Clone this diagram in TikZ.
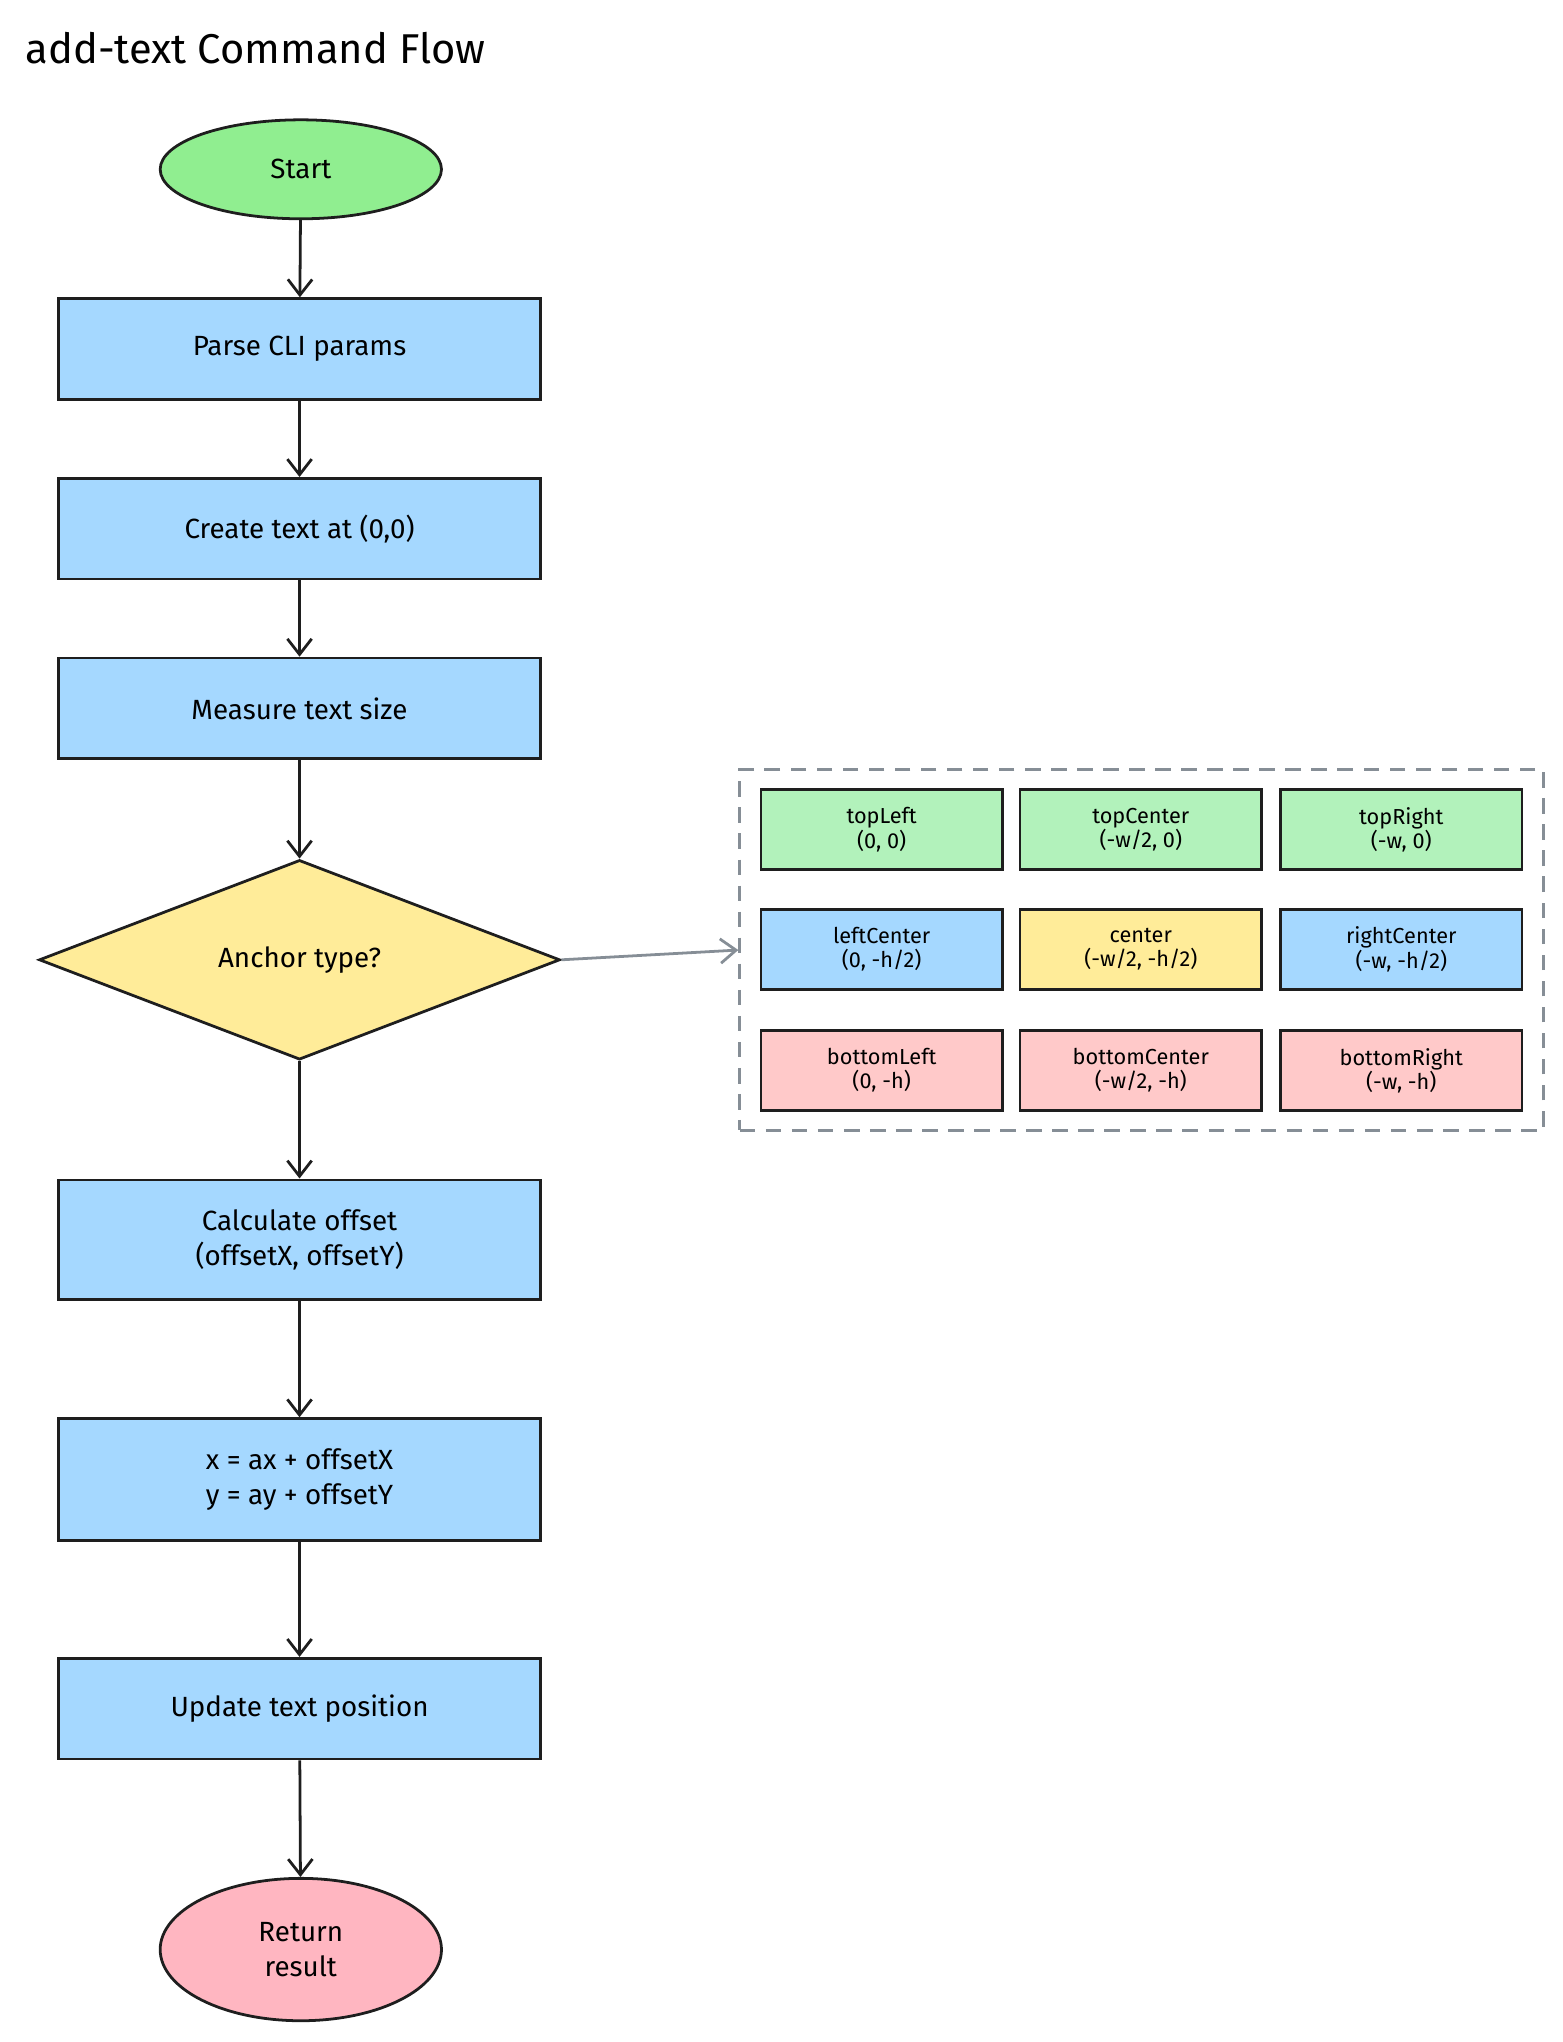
\documentclass[tikz,border=0pt]{standalone}
\usepackage{fontspec}
\setmainfont{Fira Sans}
\usetikzlibrary{shapes.geometric,arrows.meta}
\definecolor{ink}{HTML}{1E1E1E}
\definecolor{bluef}{HTML}{A5D8FF}
\definecolor{greenf}{HTML}{B2F2BB}
\definecolor{yellowf}{HTML}{FFEC99}
\definecolor{redf}{HTML}{FFC9C9}
\definecolor{startf}{HTML}{90EE90}
\definecolor{retf}{HTML}{FFB6C1}
\definecolor{grayl}{HTML}{868E96}
\begin{document}
\begin{tikzpicture}[x=0.75pt,y=-0.75pt,
  proc/.style={draw=ink,line width=1.6pt,fill=bluef,minimum width=277.5pt,align=center,font=\fontsize{16}{20}\selectfont},
  cell/.style={draw=ink,line width=1.4pt,minimum width=139pt,minimum height=46pt,align=center,font=\fontsize{12.5}{14}\selectfont},
  oval/.style={draw=ink,line width=1.6pt,ellipse,minimum width=162pt,align=center,font=\fontsize{16}{20}\selectfont},
  arr/.style={draw=ink,line width=1.6pt,-{Straight Barb[length=9pt,width=14pt]}}]
\useasboundingbox (0,0) rectangle (1200,1568);
\node[anchor=west,font=\fontsize{24}{28}\selectfont] (title) at (15,37) {add-text Command Flow};
\node[oval,fill=startf,minimum height=57pt] (start) at (231,130) {Start};
\node[proc,minimum height=58pt] (parse) at (230,268) {Parse CLI params};
\node[proc,minimum height=58pt] (create) at (230,406) {Create text at (0,0)};
\node[proc,minimum height=58pt] (measure) at (230,544) {Measure text size};
\node[diamond,draw=ink,line width=1.6pt,fill=yellowf,minimum width=300pt,minimum height=115pt,inner sep=0pt,font=\fontsize{16}{20}\selectfont,aspect=2.6] (anchor) at (230,737) {Anchor type?};
\node[proc,minimum height=69pt] (calc) at (230,952) {Calculate offset\\(offsetX, offsetY)};
\node[proc,minimum height=70pt] (xy) at (230,1136) {x = ax + offsetX\\y = ay + offsetY};
\node[proc,minimum height=58pt] (update) at (230,1312) {Update text position};
\node[oval,fill=retf,minimum height=82pt] (ret) at (231,1497) {Return\\result};
\draw[arr] (start) -- (parse);
\draw[arr] (parse) -- (create);
\draw[arr] (create) -- (measure);
\draw[arr] (measure) -- (anchor.north);
\draw[arr] (anchor.south) -- (calc);
\draw[arr] (calc) -- (xy);
\draw[arr] (xy) -- (update);
\draw[arr] (update) -- (ret);
\node[draw=grayl,line width=1.6pt,dashed,dash pattern=on 9pt off 6pt,minimum width=462.75pt,minimum height=207.75pt,inner sep=0pt] (grid) at (876.5,729.5) {};
\draw[draw=grayl,line width=1.6pt,-{Straight Barb[length=9pt,width=14pt]}] (anchor.east) -- (grid.west);
\node[cell,fill=greenf] (tl) at (677,637) {topLeft\\(0, 0)};
\node[cell,fill=greenf] (tc) at (876,637) {topCenter\\(-w/2, 0)};
\node[cell,fill=greenf] (tr) at (1076,637) {topRight\\(-w, 0)};
\node[cell,fill=bluef] (lc) at (677,729) {leftCenter\\(0, -h/2)};
\node[cell,fill=yellowf] (cc) at (876,729) {center\\(-w/2, -h/2)};
\node[cell,fill=bluef] (rc) at (1076,729) {rightCenter\\(-w, -h/2)};
\node[cell,fill=redf] (bl) at (677,822) {bottomLeft\\(0, -h)};
\node[cell,fill=redf] (bc) at (876,822) {bottomCenter\\(-w/2, -h)};
\node[cell,fill=redf] (br) at (1076,822) {bottomRight\\(-w, -h)};
\end{tikzpicture}
\end{document}
